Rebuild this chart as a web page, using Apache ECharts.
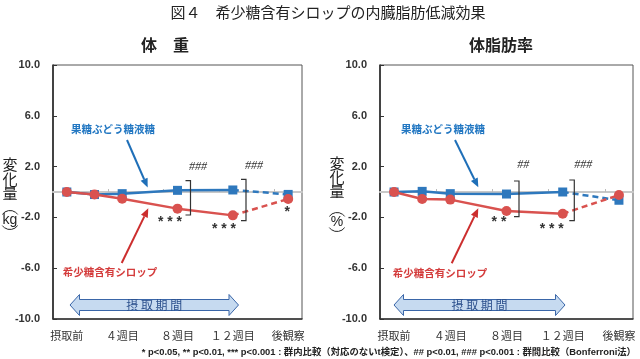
<!DOCTYPE html>
<html><head><meta charset="utf-8">
<script src="https://cdn.jsdelivr.net/npm/echarts@6/dist/echarts.min.js"></script>
<style>html,body{margin:0;padding:0;background:#fff}#c{width:640px;height:359px}</style>
</head><body><div id="c"></div>
<script>
// ---- data ----
const weeks = [0, 2, 4, 8, 12];          // intake period measurement weeks
const postWeek = 16;                      // follow-up (後観察)
const labelWeeks = [0, 4, 8, 12, 16];
const labelNames = ['摂取前', '４週目', '８週目', '１２週目', '後観察'];
const yTicks = [-10, -6, -2, 2, 6, 10];
const zeroTicks = [3, 7, 11, 15];

const weightBlue = [0, -0.2, -0.13, 0.13, 0.16];
const weightBluePost = -0.19;
const weightRed = [0, -0.2, -0.53, -1.31, -1.84];
const weightRedPost = -0.55;

const fatBlue = [0, 0.05, -0.13, -0.16, 0];
const fatBluePost = -0.65;
const fatRed = [0, -0.55, -0.6, -1.5, -1.71];
const fatRedPost = -0.24;

const BLUE = '#2e78bd', RED = '#d9524f';
const JP = "'Noto Sans CJK JP', sans-serif";
const NUM = "'Liberation Sans', 'Noto Sans CJK JP', sans-serif";

const chart = echarts.init(document.getElementById('c'));

const grids = [
  {left: 53, top: 65, width: 249, height: 254},
  {left: 380, top: 65, width: 253, height: 254}
];

function xAxesFor(g) {
  return [
    {type: 'value', gridIndex: g, min: -1, max: 17, position: 'bottom',
     axisLine: {show: true, onZero: false, lineStyle: {color: '#333', width: 1.5}},
     axisTick: {show: false}, splitLine: {show: false},
     axisLabel: {customValues: labelWeeks, margin: 11, color: '#333', fontSize: 11, fontFamily: JP,
       formatter: v => labelNames[labelWeeks.indexOf(v)] || ''}},
    {type: 'value', gridIndex: g, min: -1, max: 17, position: 'bottom',
     axisLine: {show: true, onZero: true, lineStyle: {color: '#c8c8c8', width: 2}},
     axisTick: {show: true, inside: true, length: 3, customValues: zeroTicks, lineStyle: {color: '#bbb'}},
     axisLabel: {show: false}, splitLine: {show: false}}
  ];
}
function yAxisFor(g) {
  return {type: 'value', gridIndex: g, min: -10, max: 10, position: 'left',
    axisLine: {show: true, onZero: false, lineStyle: {color: '#222', width: 1.5}},
    axisTick: {show: true, inside: true, length: 4, customValues: yTicks, lineStyle: {color: '#333'}},
    splitLine: {show: false},
    axisLabel: {customValues: yTicks, margin: 13, color: '#333', fontSize: 11, fontWeight: 'bold', fontFamily: NUM,
      formatter: v => v.toFixed(1)}};
}
function seriesFor(g, vals, post, color, symbol, size, z) {
  const xi = g * 2;
  return [
    {type: 'line', xAxisIndex: xi, yAxisIndex: g, data: weeks.map((w, i) => [w, vals[i]]),
     symbol: symbol, symbolSize: size, z: z, silent: true, animation: false,
     lineStyle: {color: color, width: 2.5}, itemStyle: {color: color}},
    {type: 'line', xAxisIndex: xi, yAxisIndex: g,
     data: [{value: [weeks[weeks.length - 1], vals[vals.length - 1]], symbol: 'none'}, [postWeek, post]],
     symbol: symbol, symbolSize: size, z: z, silent: true, animation: false,
     lineStyle: {color: color, width: 2.5, type: [6, 4]}, itemStyle: {color: color}}
  ];
}

// ---- decorations (pixel space) ----
const G = [];
function text(x, y, s, style) {
  G.push({type: 'text', x: x, y: y, silent: true, z: 50,
    style: Object.assign({text: s, align: 'center', verticalAlign: 'middle', fill: '#333', fontFamily: JP, fontSize: 12}, style)});
}
function arrow(x1, y1, x2, y2, color) {
  const dx = x2 - x1, dy = y2 - y1, L = Math.hypot(dx, dy), ux = dx / L, uy = dy / L;
  const hl = 9, hw = 3.8;
  const bx = x2 - ux * hl, by = y2 - uy * hl;
  G.push({type: 'line', silent: true, z: 50, shape: {x1: x1, y1: y1, x2: bx, y2: by}, style: {stroke: color, lineWidth: 2}});
  G.push({type: 'polygon', silent: true, z: 50, shape: {points: [[x2, y2], [bx - uy * hw, by + ux * hw], [bx + uy * hw, by - ux * hw]]}, style: {fill: color}});
}
function bracket(x, top, bottom) {
  G.push({type: 'polyline', silent: true, z: 50, shape: {points: [[x - 5, top], [x, top], [x, bottom], [x - 5, bottom]]},
    style: {stroke: '#333', lineWidth: 1.2, fill: null}});
}
function period(x1, x2) {
  const yc = 305, bh = 5.5, hh = 10.5, hl = 9.5;
  G.push({type: 'polygon', silent: true, z: 40, shape: {points: [
    [x1, yc], [x1 + hl, yc - hh], [x1 + hl, yc - bh], [x2 - hl, yc - bh], [x2 - hl, yc - hh], [x2, yc],
    [x2 - hl, yc + hh], [x2 - hl, yc + bh], [x1 + hl, yc + bh], [x1 + hl, yc + hh]]},
    style: {fill: '#c6daf0', stroke: '#3a66a8', lineWidth: 1}});
  text((x1 + x2) / 2, yc, '摂 取 期 間', {fill: '#2b4f8c', fontSize: 12});
}

// titles
text(328, 12, '図４　希少糖含有シロップの内臓脂肪低減効果', {fontSize: 15, fill: '#222'});
text(165, 45, '体　重', {fontSize: 16, fontWeight: 'bold', fill: '#222'});
text(501, 45, '体脂肪率', {fontSize: 16, fontWeight: 'bold', fill: '#222'});

// y axis names
[['kg', 10, [164, 179, 193], 220], ['%', 337, [163, 177, 191], 222]].forEach(a => {
  const [u, x, ys, uy] = a;
  ['変', '化', '量'].forEach((c, i) => text(x, ys[i], c, {fontSize: 15, fill: '#222'}));
  text(x, uy, u, {fontSize: 14, fill: '#222', fontFamily: NUM});
  G.push({type: 'arc', silent: true, z: 50, shape: {cx: x, cy: uy, r: 9.5, startAngle: Math.PI * 1.2, endAngle: Math.PI * 1.8},
    style: {stroke: '#222', lineWidth: 1, fill: null}});
  G.push({type: 'arc', silent: true, z: 50, shape: {cx: x, cy: uy, r: 9.5, startAngle: Math.PI * 0.2, endAngle: Math.PI * 0.8},
    style: {stroke: '#222', lineWidth: 1, fill: null}});
});

// series labels and pointers
text(113, 129, '果糖ぶどう糖液糖', {fontSize: 10.5, fontWeight: 'bold', fill: '#2277c2'});
text(443, 129, '果糖ぶどう糖液糖', {fontSize: 10.5, fontWeight: 'bold', fill: '#2277c2'});
text(110, 272, '希少糖含有シロップ', {fontSize: 10.5, fontWeight: 'bold', fill: '#d43c3c'});
text(440, 273, '希少糖含有シロップ', {fontSize: 10.5, fontWeight: 'bold', fill: '#d43c3c'});
arrow(127, 140, 147.7, 187.5, '#1f6fb8');
arrow(455, 140, 478.3, 187.3, '#1f6fb8');
arrow(121.7, 263, 148.3, 208.3, '#cc2e2e');
arrow(451.7, 263.3, 478.3, 208.3, '#cc2e2e');

// significance marks
bracket(190.5, 180.7, 215); bracket(246, 179.3, 220.7);
bracket(519, 181, 216.7); bracket(574.3, 180, 220.7);
const hashStyle = {fontSize: 12, fontStyle: 'italic', fontFamily: "'Liberation Serif', serif", fill: '#333'};
text(198, 167, '###', hashStyle); text(254, 166, '###', hashStyle);
text(523.3, 165, '##', hashStyle); text(583.3, 165, '###', hashStyle);
const astStyle = {fontSize: 14, fontWeight: 'bold', fontFamily: NUM, fill: '#333'};
text(170, 222, '* * *', astStyle); text(224, 229.5, '* * *', astStyle); text(287.3, 212, '*', astStyle);
text(499, 222, '* *', astStyle); text(551.7, 229.5, '* * *', astStyle);

period(70, 238.5);
period(394, 565);

// footnote
G.push({type: 'text', x: 636, y: 352, silent: true, z: 50,
  style: {text: '* p<0.05, ** p<0.01, *** p<0.001 : 群内比較（対応のないt検定）、## p<0.01, ### p<0.001 : 群間比較（Bonferroni法）',
    align: 'right', verticalAlign: 'middle', fontSize: 9.4, fontWeight: 'bold', fill: '#222', fontFamily: NUM}});

chart.setOption({
  animation: false,
  grid: grids.map(g => Object.assign({show: true, borderColor: '#555', borderWidth: 1, backgroundColor: 'transparent'}, g)),
  xAxis: [...xAxesFor(0), ...xAxesFor(1)],
  yAxis: [yAxisFor(0), yAxisFor(1)],
  series: [
    ...seriesFor(0, weightBlue, weightBluePost, BLUE, 'rect', 9, 3),
    ...seriesFor(0, weightRed, weightRedPost, RED, 'circle', 10, 4),
    ...seriesFor(1, fatBlue, fatBluePost, BLUE, 'rect', 9, 3),
    ...seriesFor(1, fatRed, fatRedPost, RED, 'circle', 10, 4)
  ],
  graphic: G
});
</script></body></html>
